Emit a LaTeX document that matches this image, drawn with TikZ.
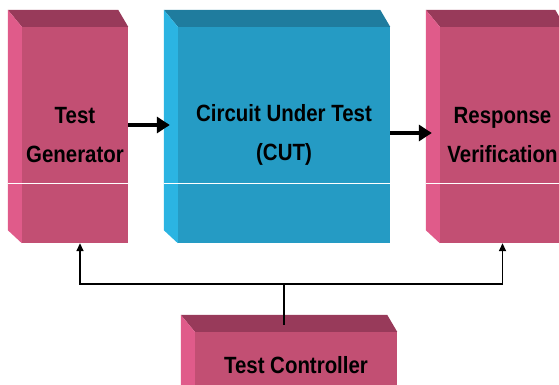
\documentclass[tikz,border=0pt]{standalone}
\usepackage{fontspec}
\setmainfont{Liberation Sans}[FakeStretch=0.87]
\usepackage{xcolor}
\usetikzlibrary{arrows.meta,positioning}

\definecolor{magF}{HTML}{C24F73}
\definecolor{magT}{HTML}{983A5A}
\definecolor{magS}{HTML}{E05B8A}
\definecolor{cyanF}{HTML}{259BC4}
\definecolor{cyanT}{HTML}{1F7C9E}
\definecolor{cyanS}{HTML}{2BB4E2}

\begin{document}
\begin{tikzpicture}[
  x=1pt, y=-1pt,
  font=\fontsize{23.5}{39}\selectfont\bfseries,
  block/.style={minimum height=216pt, inner sep=0pt, align=center, text=black},
  magbox/.style={block, fill=magF},
  cyanbox/.style={block, fill=cyanF},
  sep/.style={white, line width=0.8pt},
  fat/.style={-{Triangle[length=13pt,width=16pt]}, line width=4pt},
  thin/.style={-{Triangle[length=8pt,width=7pt]}, line width=1.6pt},
]
\useasboundingbox (0,0) rectangle (559,385);
\node[magbox, minimum width=106pt] (gen) at (75,135) {Test\\Generator};
\node[cyanbox, minimum width=212pt] (cut) at (284,135) {Circuit Under Test\\(CUT)};
\node[magbox, minimum width=125pt] (resp) at (502.5,135) {Response\\Verification};
\node[magbox, minimum width=202pt, minimum height=66pt] (ctrl) at (296,365) {Test Controller};
% top and side faces
\foreach \n/\col in {gen/mag,cut/cyan,resp/mag,ctrl/mag} {
  \fill[\col T] (\n.north west) -- ++(-14,-17) -- ([xshift=-10pt,yshift=17pt]\n.north east)
    -- (\n.north east) -- cycle;
  \fill[\col S] (\n.north west) -- ++(-14,-17) -- ([xshift=-14pt,yshift=13pt]\n.south west)
    -- (\n.south west) -- cycle;
}
\foreach \n in {gen,cut,resp}
  \draw[sep] ([xshift=-14pt,yshift=-48pt]\n.west) -- ([yshift=-48pt]\n.east);
% signal flow
\draw[fat] ([yshift=10pt]gen.east) -- ([xshift=-8pt,yshift=10pt]cut.west);
\draw[fat] ([yshift=2pt]cut.east) -- ([xshift=-8pt,yshift=2pt]resp.west);
% controller bus
\coordinate (bus) at (284,284);
\draw[line width=1.6pt] ([yshift=7pt]ctrl.north -| bus) -- (bus);
\draw[thin] (bus) -| ([xshift=5pt]gen.south);
\draw[thin] (bus) -| (resp.south);
\end{tikzpicture}
\end{document}
